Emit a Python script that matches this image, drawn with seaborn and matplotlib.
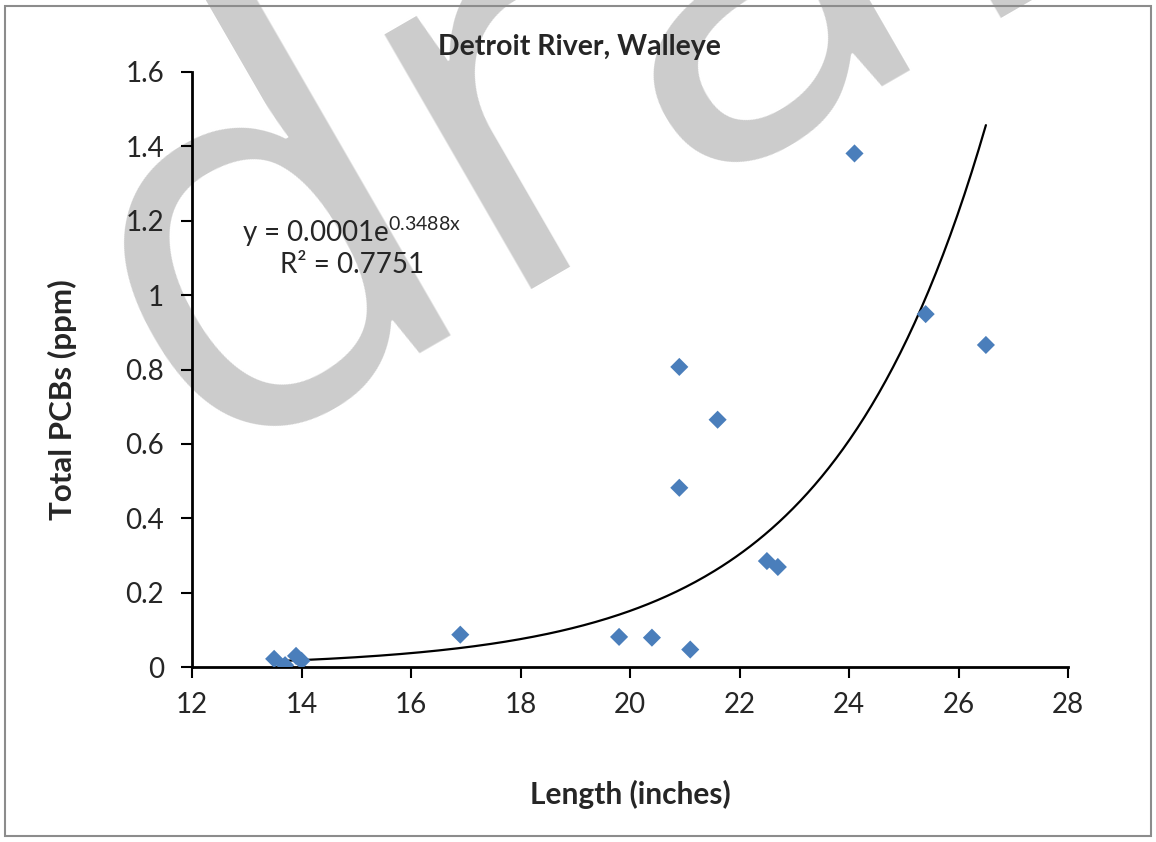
import numpy as np
import pandas as pd
import matplotlib
matplotlib.use('Agg')
import matplotlib.pyplot as plt
from matplotlib.patches import Rectangle
import seaborn as sns

# fish length (inches) and total PCBs (ppm)
length = [13.5, 13.7, 13.9, 14.0, 16.9, 19.8, 20.4, 21.1, 20.9, 20.9,
          21.6, 22.5, 22.7, 24.1, 25.4, 26.5]
pcbs = [0.022, 0.005, 0.030, 0.017, 0.087, 0.081, 0.079, 0.047, 0.807, 0.482,
        0.665, 0.285, 0.269, 1.381, 0.949, 0.866]

# exponential trendline y = a * exp(b * x)
trend_a = 0.000141
trend_b = 0.3488
trend_range = [13.5, 26.5]

x_ticks = [12, 14, 16, 18, 20, 22, 24, 26, 28]
y_ticks = [0, 0.2, 0.4, 0.6, 0.8, 1, 1.2, 1.4, 1.6]
y_tick_labels = ['0', '0.2', '0.4', '0.6', '0.8', '1', '1.2', '1.4', '1.6']

df = pd.DataFrame({'length': length, 'pcbs': pcbs})
xs = np.linspace(trend_range[0], trend_range[1], 300)
trend = pd.DataFrame({'length': xs, 'pcbs': trend_a * np.exp(trend_b * xs)})

sns.set_style('white')
plt.rcParams['font.family'] = ['Lato', 'DejaVu Sans']
plt.rcParams['mathtext.default'] = 'regular'

fig = plt.figure(figsize=(11.56, 8.42), dpi=100)
ax = fig.add_axes([0.1661, 0.2078, 0.7578, 0.7067])
ax.patch.set_alpha(0)

# watermark behind everything
fig.text(0.170, 0.448, 'draft', fontsize=395, color='#cccccc',
         family='Open Sans', rotation=30, rotation_mode='anchor',
         ha='left', va='baseline', zorder=-10)

fig.patches.append(Rectangle((0.004, 0.007), 0.992, 0.986, transform=fig.transFigure,
                             fill=False, edgecolor='#8c8c8c', lw=1.5, zorder=5))

sns.lineplot(data=trend, x='length', y='pcbs', color='black', lw=1.6, ax=ax)
sns.scatterplot(data=df, x='length', y='pcbs', marker='D', s=85,
                color='#4a7ebb', edgecolor='none', ax=ax, zorder=3)

ax.set_xlim(12, 28)
ax.set_ylim(0, 1.6)
ax.set_xticks(x_ticks)
ax.set_yticks(y_ticks)
ax.set_yticklabels(y_tick_labels)
ax.tick_params(axis='both', direction='out', length=8, width=1.5, labelsize=20,
               color='black', left=True, bottom=True)
ax.tick_params(axis='x', pad=10)
ax.tick_params(axis='y', pad=12)
sns.despine(ax=ax)
for side in ['left', 'bottom']:
    ax.spines[side].set_color('black')
    ax.spines[side].set_linewidth(2)
ax.set_xlabel('')
ax.set_ylabel('')

ax.text(14.92, 1.13, 'y = 0.0001e$^{0.3488x}$\nR² = 0.7751', fontsize=20,
        ha='center', va='center', linespacing=1.15)

fig.text(0.501, 0.944, 'Detroit River, Walleye', fontsize=20.5, fontweight='bold',
         ha='center', va='center')
fig.text(0.545, 0.056, 'Length (inches)', fontsize=21.5, fontweight='bold',
         ha='center', va='center')
fig.text(0.054, 0.525, 'Total PCBs (ppm)', fontsize=22.5, fontweight='bold',
         ha='center', va='center', rotation=90)

fig.savefig('out.png', dpi=100)
